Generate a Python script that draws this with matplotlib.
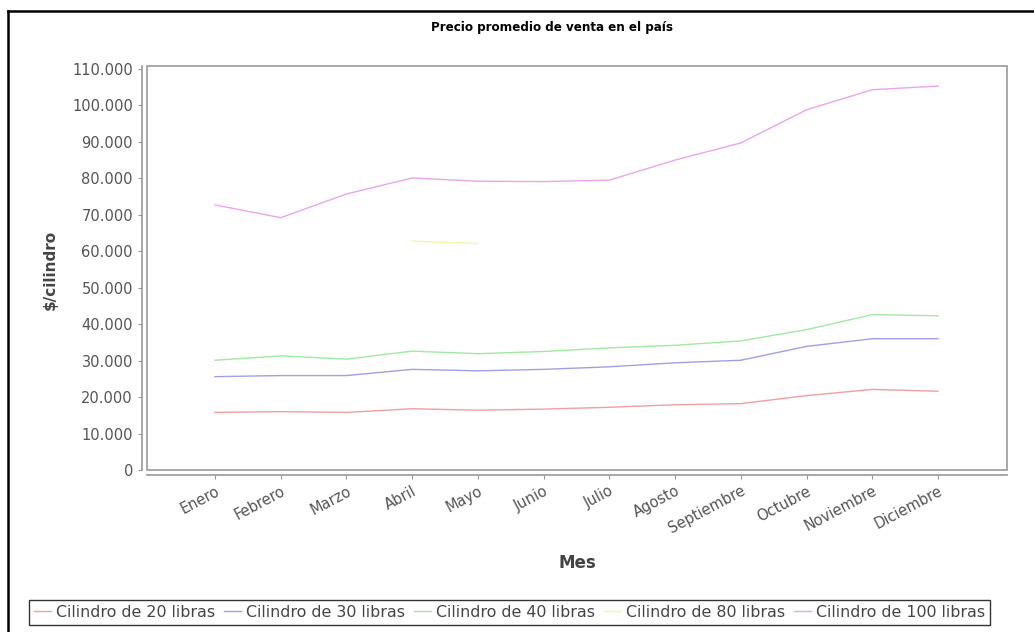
import numpy as np
import matplotlib
matplotlib.use('Agg')
import matplotlib.pyplot as plt
from matplotlib.lines import Line2D
from matplotlib.patches import Rectangle
from matplotlib.ticker import FuncFormatter

# Data
meses = ['Enero', 'Febrero', 'Marzo', 'Abril', 'Mayo', 'Junio', 'Julio',
         'Agosto', 'Septiembre', 'Octubre', 'Noviembre', 'Diciembre']
cil_20 = [15800, 16000, 15800, 16800, 16400, 16700, 17200, 17900, 18200, 20400, 22100, 21600]
cil_30 = [25600, 25900, 25900, 27600, 27200, 27600, 28300, 29400, 30100, 33900, 36000, 36000]
cil_40 = [30100, 31300, 30400, 32600, 31900, 32500, 33500, 34200, 35400, 38500, 42600, 42300]
cil_80 = [np.nan, np.nan, np.nan, 62800, 62100, np.nan, np.nan, np.nan, np.nan, np.nan, np.nan, np.nan]
cil_100 = [72700, 69200, 75700, 80100, 79200, 79100, 79500, 85000, 89700, 98800, 104300, 105300]

series = [
    ('Cilindro de 20 libras', cil_20, '#f0a0a0'),
    ('Cilindro de 30 libras', cil_30, '#a0a0e6'),
    ('Cilindro de 40 libras', cil_40, '#a0eaa0'),
    ('Cilindro de 80 libras', cil_80, '#f6f6a0'),
    ('Cilindro de 100 libras', cil_100, '#eaa6ea'),
]

W, H = 1034, 632
fig = plt.figure(figsize=(W / 100, H / 100), dpi=100)
fig.patch.set_facecolor('white')

# plot area in pixels: left 147, right 1007, top 66, bottom 470
ax = fig.add_axes([147 / W, 1 - 470 / H, 860 / W, 404 / H])
x = np.arange(len(meses))
for name, vals, col in series:
    ax.plot(x, vals, color=col, lw=1.0, label=name)

ax.set_xlim(-1.035, 12.05)
ax.set_ylim(0, 110800)
ax.set_yticks(np.arange(0, 110001, 10000))
ax.yaxis.set_major_formatter(FuncFormatter(lambda v, p: f'{int(v):,}'.replace(',', '.')))
ax.set_xticks(x)
ax.set_xticklabels(meses)

# plot outline + offset axis lines (jfreechart look)
ax.add_patch(Rectangle((0, 0), 1, 1, transform=ax.transAxes, fill=False,
                       ec='#999999', lw=1.2, clip_on=False, zorder=5))
for s in ['top', 'right']:
    ax.spines[s].set_visible(False)
for s in ['left', 'bottom']:
    ax.spines[s].set_position(('outward', 3.6))
    ax.spines[s].set_color('#999999')
    ax.spines[s].set_linewidth(1.2)
ax.tick_params(axis='both', colors='#999999', length=3, width=0.8,
               labelcolor='#555555', labelsize=10.5)
ax.tick_params(axis='x', pad=3, labelrotation=28)
for lab in ax.get_xticklabels():
    lab.set_ha('right')
    lab.set_rotation_mode('anchor')

ax.set_ylabel('$/cilindro', fontsize=11, fontweight='bold', color='#444444')
ax.yaxis.set_label_coords(-0.104, 0.495)
ax.set_xlabel('Mes', fontsize=12, fontweight='bold', color='#444444')
ax.xaxis.set_label_coords(0.5, -0.208)

fig.text(552 / W, 1 - 28 / H, 'Precio promedio de venta en el país', ha='center', va='center',
         fontsize=9.5, fontweight='bold', fontstretch='condensed', color='black')

leg = fig.legend(loc='center', bbox_to_anchor=(509.5 / W, 1 - 612.5 / H), ncol=5,
                 frameon=True, fancybox=False, fontsize=11.4, handlelength=1.1,
                 handletextpad=0.3, columnspacing=0.55, borderpad=0.3, labelcolor='#444444')
leg.get_frame().set_edgecolor('black')
leg.get_frame().set_linewidth(1.0)

# outer chart border (top and left visible)
fig.add_artist(Line2D([8 / W, 1], [1 - 11 / H, 1 - 11 / H], color='black', lw=1.8))
fig.add_artist(Line2D([8 / W, 8 / W], [0, 1 - 11 / H], color='black', lw=1.8))

fig.savefig('out.png', dpi=100)
